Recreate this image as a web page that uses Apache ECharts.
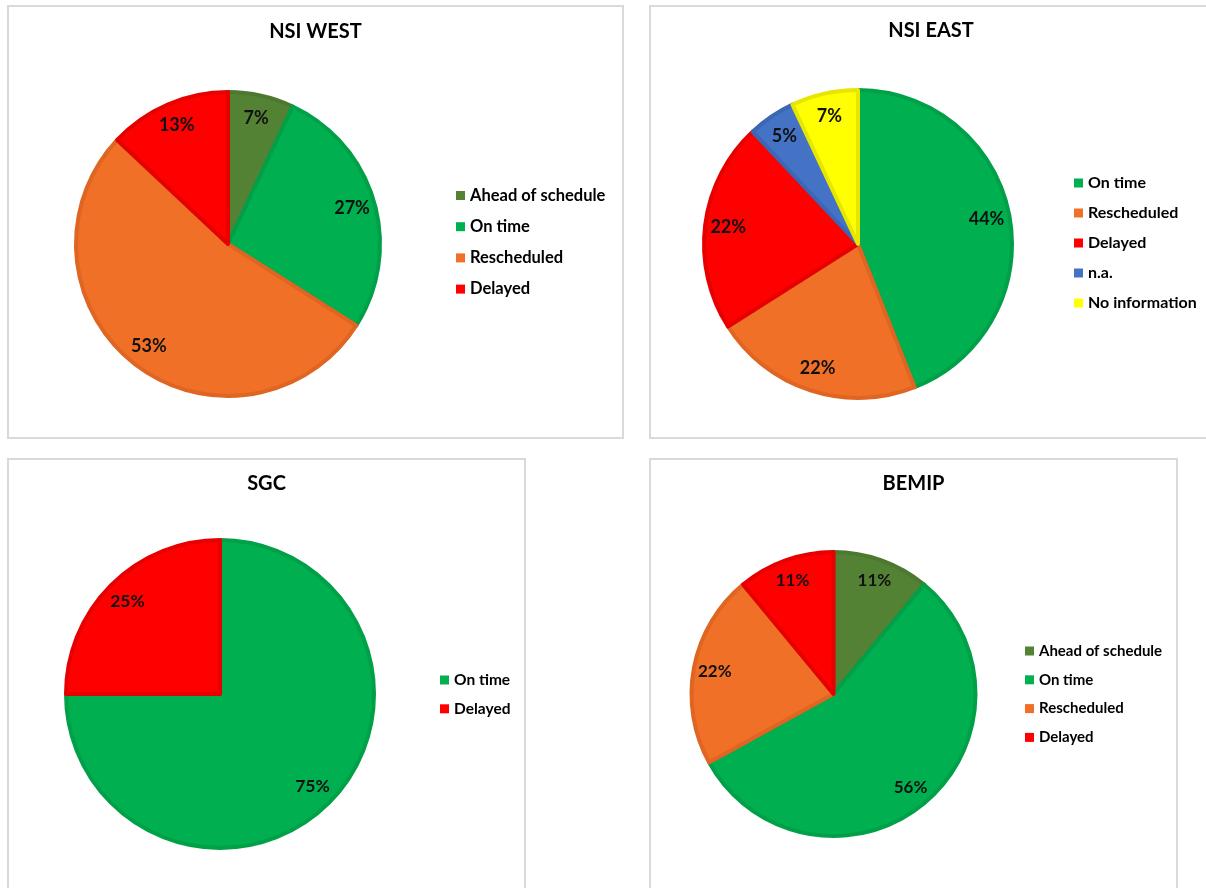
<!DOCTYPE html>
<html>
<head>
<meta charset="utf-8">
<script src="https://cdn.jsdelivr.net/npm/echarts@6/dist/echarts.min.js"></script>
<style>
html,body{margin:0;padding:0;width:1206px;height:888px;overflow:hidden;background:#fff;}
.panel{position:absolute;box-sizing:border-box;border:2px solid #d9d9d9;background:#fff;}
.chart{position:absolute;left:0;top:0;width:100%;height:100%;}
</style>
</head>
<body>
<div class="panel" style="left:7px;top:5px;width:617px;height:434px"><div id="c1" class="chart"></div></div>
<div class="panel" style="left:649px;top:5px;width:564px;height:434px"><div id="c2" class="chart"></div></div>
<div class="panel" style="left:7px;top:458px;width:519px;height:450px"><div id="c3" class="chart"></div></div>
<div class="panel" style="left:649px;top:458px;width:529px;height:450px"><div id="c4" class="chart"></div></div>
<script>
// ---- data (percentages as labelled) ----
const westTitle = 'NSI WEST';
const westCategories = ['Ahead of schedule', 'On time', 'Rescheduled', 'Delayed'];
const westValues = [7, 27, 53, 13];

const eastTitle = 'NSI EAST';
const eastCategories = ['On time', 'Rescheduled', 'Delayed', 'n.a.', 'No information'];
const eastValues = [44, 22, 22, 5, 7];

const sgcTitle = 'SGC';
const sgcCategories = ['On time', 'Delayed'];
const sgcValues = [75, 25];

const bemipTitle = 'BEMIP';
const bemipCategories = ['Ahead of schedule', 'On time', 'Rescheduled', 'Delayed'];
const bemipValues = [11, 56, 22, 11];

// ---- styles ----
const fillColors = {
  'Ahead of schedule': '#548235',
  'On time': '#00B050',
  'Rescheduled': '#F07027',
  'Delayed': '#FF0000',
  'n.a.': '#4472C4',
  'No information': '#FFFF00'
};
const edgeColors = {
  'Ahead of schedule': '#4C7830',
  'On time': '#00A048',
  'Rescheduled': '#DE6522',
  'Delayed': '#E60000',
  'n.a.': '#3C67B4',
  'No information': '#E6E600'
};
const FONT = 'Lato';

const panels = [
  {id: 'c1', title: westTitle, cats: westCategories, vals: westValues,
   center: [219, 237], r: 152, titleTop: 13, labelSize: 18,
   legend: {left: 447, top: 180, gap: 14.2, size: 16.5}},
  {id: 'c2', title: eastTitle, cats: eastCategories, vals: eastValues,
   center: [207, 237], r: 154, titleTop: 12, labelSize: 18,
   legend: {left: 423, top: 168, gap: 14, size: 16}},
  {id: 'c3', title: sgcTitle, cats: sgcCategories, vals: sgcValues,
   center: [211, 234], r: 154, titleTop: 12, labelSize: 17.5,
   legend: {left: 431, top: 212, gap: 12.8, size: 15.5}},
  {id: 'c4', title: bemipTitle, cats: bemipCategories, vals: bemipValues,
   center: [182.5, 234], r: 142, titleTop: 12, labelSize: 17,
   legend: {left: 374, top: 183, gap: 12.8, size: 15}}
];

panels.forEach(function (p) {
  const chart = echarts.init(document.getElementById(p.id), null, {renderer: 'canvas'});
  const sliceData = p.cats.map(function (n, i) {
    return {name: n, value: p.vals[i],
            itemStyle: {color: fillColors[n], borderColor: edgeColors[n]}};
  });
  const labelData = p.cats.map(function (n, i) {
    return {name: n, value: p.vals[i]};
  });
  chart.setOption({
    animation: false,
    title: {
      text: p.title, left: 'center', top: p.titleTop, padding: 0,
      textStyle: {fontFamily: FONT, fontWeight: 'bold', fontSize: 20, lineHeight: 24, color: '#000'}
    },
    legend: {
      orient: 'vertical', left: p.legend.left, top: p.legend.top, itemGap: p.legend.gap,
      itemWidth: 9, itemHeight: 9, icon: 'rect', padding: 0, selectedMode: false,
      data: p.cats,
      itemStyle: {borderWidth: 0},
      textStyle: {fontFamily: FONT, fontWeight: 'bold', fontSize: p.legend.size, lineHeight: 16, color: '#000', padding: [0, 0, 0, 0]}
    },
    series: [
      {
        type: 'pie', center: p.center, radius: [0, p.r], startAngle: 90, clockwise: true,
        data: sliceData, itemStyle: {borderWidth: 4},
        label: {show: false}, labelLine: {show: false},
        emphasis: {disabled: true}, silent: true
      },
      {
        type: 'pie', center: p.center, radius: [p.r * 0.66, p.r], startAngle: 90, clockwise: true,
        data: labelData, silent: true, legendHoverLink: false,
        itemStyle: {color: 'rgba(0,0,0,0)', borderWidth: 0},
        label: {show: true, position: 'inside', formatter: '{c}%',
                fontFamily: FONT, fontWeight: 'bold', fontSize: p.labelSize, color: '#111'},
        labelLine: {show: false},
        emphasis: {disabled: true}
      }
    ]
  });
});
</script>
</body>
</html>
